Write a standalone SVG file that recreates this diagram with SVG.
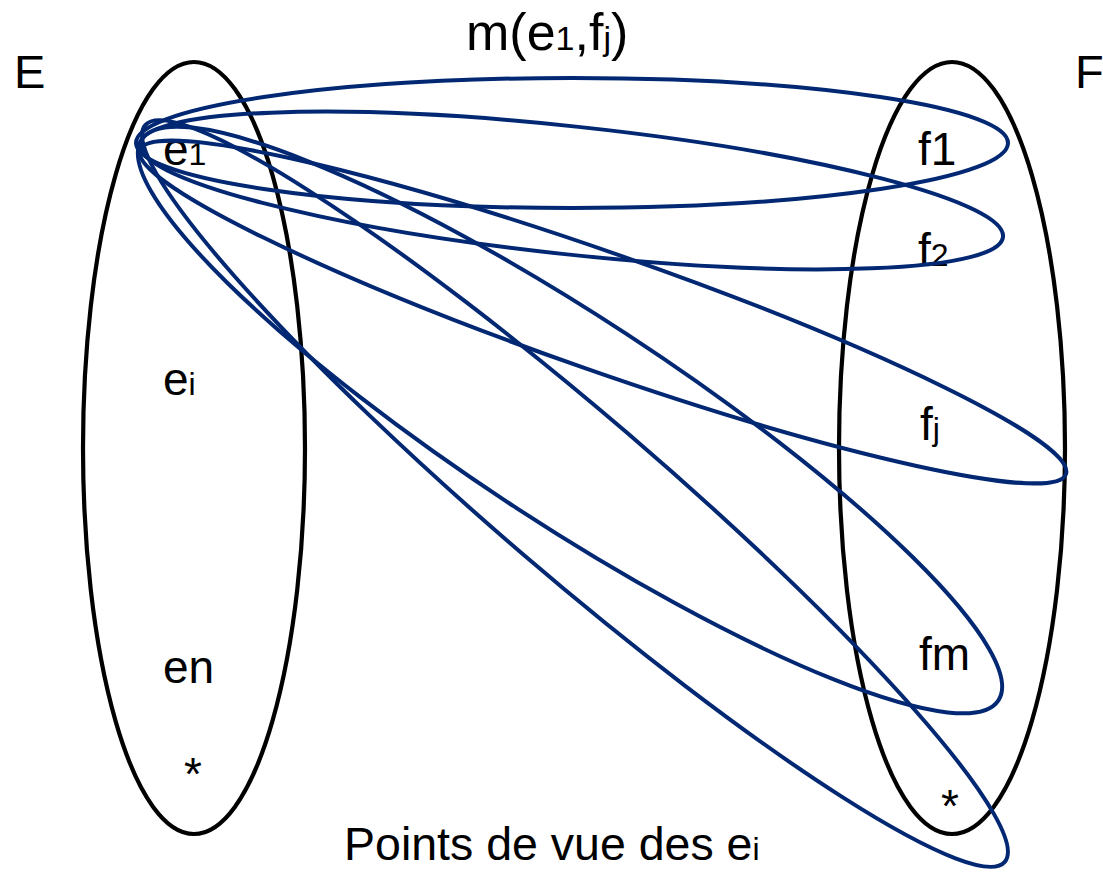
<svg xmlns="http://www.w3.org/2000/svg" width="1103" height="874" viewBox="0 0 1103 874">
<style>
.set{fill:none;stroke:#000;stroke-width:4.2}
.loop{fill:none;stroke:#022873;stroke-width:4}
text{font-family:"Liberation Sans",Arial,sans-serif;fill:#000;font-size:46px}
.sub{font-size:32px}
</style>
<rect width="1103" height="874" fill="#fff"/>
<g id="setE">
<ellipse class="set" cx="194" cy="448" rx="111" ry="386"/>
<text x="163" y="165">e<tspan class="sub">1</tspan></text>
<text x="163" y="395">e<tspan class="sub">i</tspan></text>
<text x="163" y="683">en</text>
<text x="184" y="790">*</text>
</g>
<g id="setF">
<ellipse class="set" cx="952" cy="448" rx="113" ry="386"/>
<text x="918" y="165">f1</text>
<text x="918" y="266">f<tspan class="sub">2</tspan></text>
<text x="920" y="440">f<tspan class="sub">j</tspan></text>
<text x="919" y="670">fm</text>
<text x="941" y="822">*</text>
</g>
<g id="connectors">
<ellipse class="loop" cx="572" cy="143" rx="436" ry="65"/>
<ellipse class="loop" cx="571.5" cy="190.5" rx="434" ry="64" transform="rotate(6.15 571.5 190.5)"/>
<ellipse class="loop" cx="603" cy="312" rx="490.5" ry="59" transform="rotate(19.29 603 312)"/>
<ellipse class="loop" cx="570" cy="420" rx="512" ry="103" transform="rotate(33.2 570 420)"/>
<ellipse class="loop" cx="575" cy="493.5" rx="566" ry="80" transform="rotate(40.6 575 493.5)"/>
</g>
<g id="labels">
<text x="14" y="88" style="font-size:47px">E</text>
<text x="1075" y="88" style="font-size:47px">F</text>
<text x="466" y="50" style="font-size:52px">m(e<tspan style="font-size:34px">1</tspan>,f<tspan style="font-size:34px">j</tspan>)</text>
<text x="344" y="860" style="font-size:46.5px">Points de vue des e<tspan class="sub">i</tspan></text>
</g>
</svg>
